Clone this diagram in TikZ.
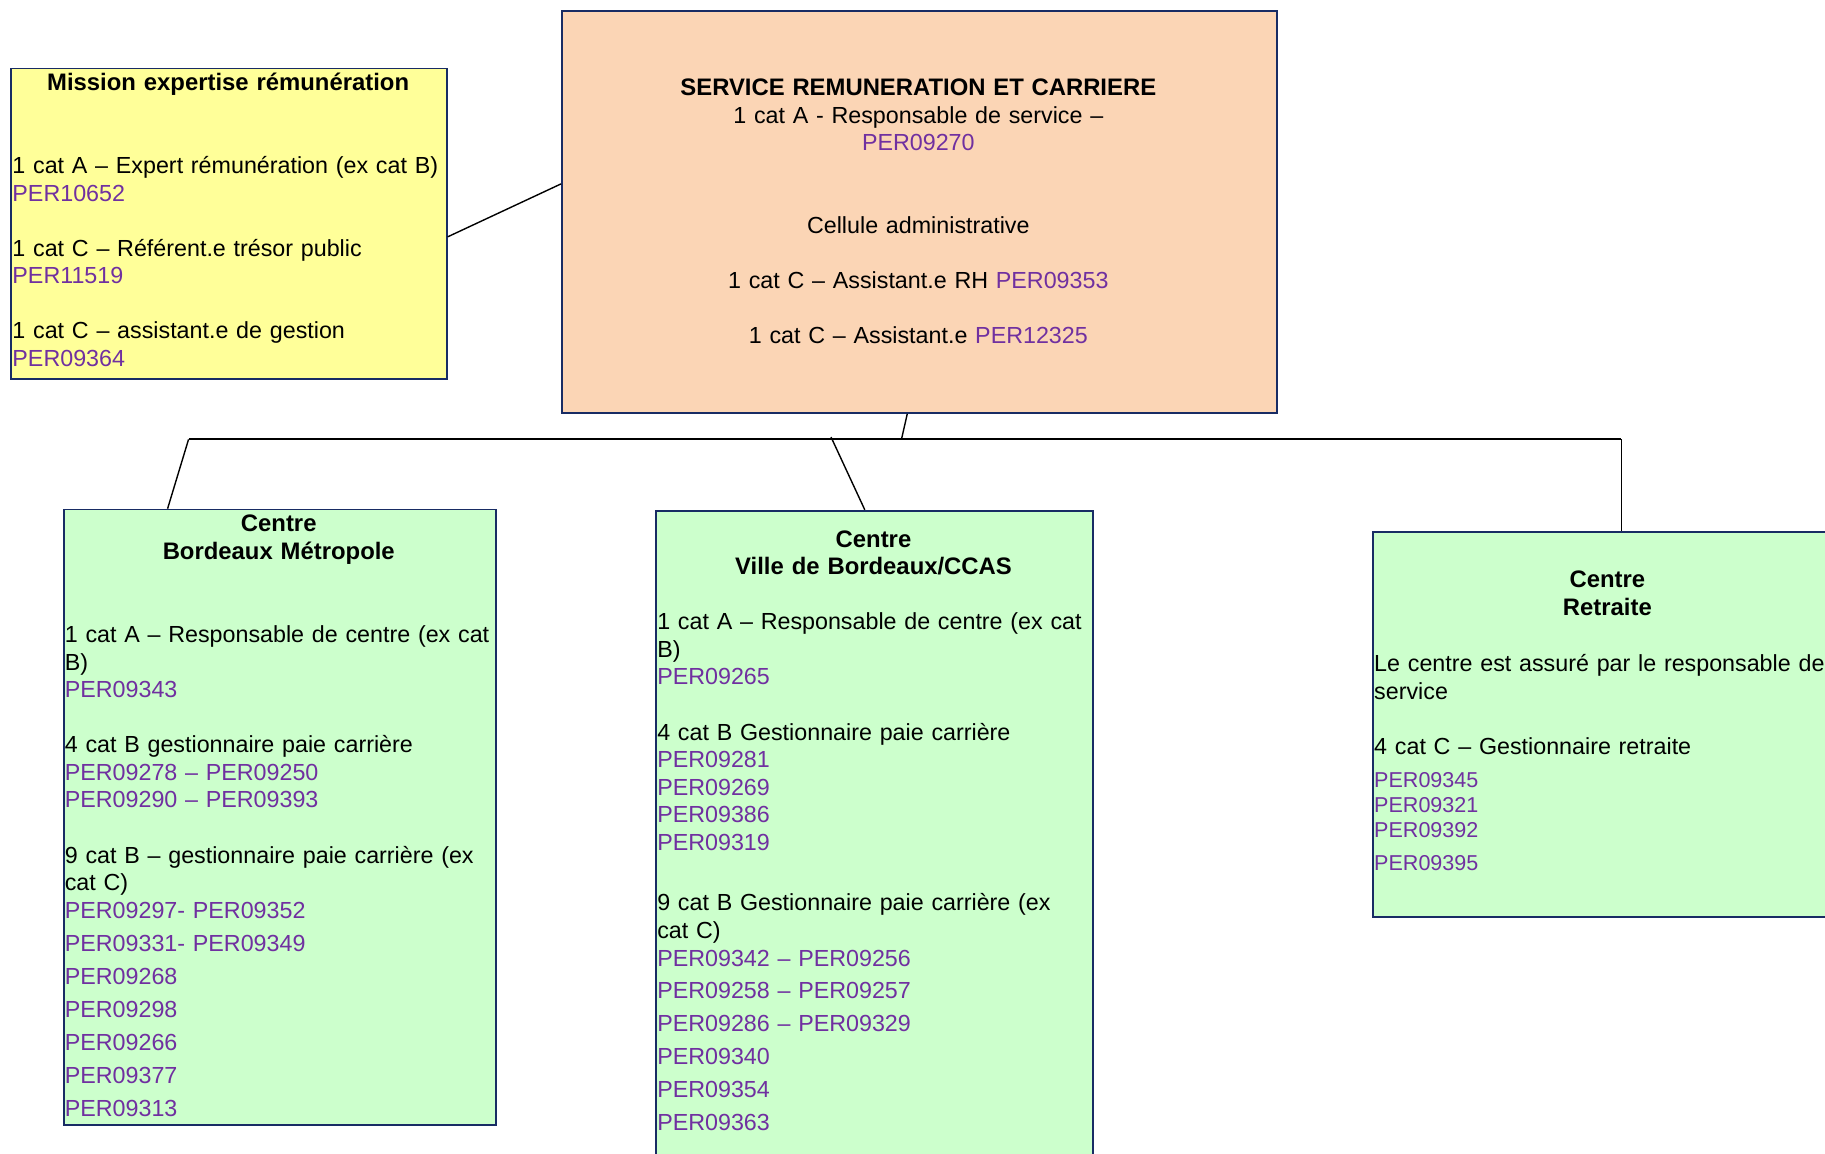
\documentclass[tikz,border=0pt]{standalone}
\usepackage{fontspec}
\setmainfont{Liberation Sans}
\usetikzlibrary{calc}
\definecolor{yelfill}{RGB}{255,255,153}
\definecolor{peachfill}{RGB}{251,213,181}
\definecolor{mintfill}{RGB}{204,255,204}
\definecolor{navyline}{RGB}{24,44,100}
\definecolor{perid}{RGB}{112,48,160}
\newcommand{\pid}[1]{\textcolor{perid}{#1}}
\newcommand{\bigbold}[1]{{\fontsize{20.5}{23.7}\selectfont\bfseries #1}}
\begin{document}
\begin{tikzpicture}[x=1pt,y=-1pt,
  boxnode/.style={draw=navyline, line width=1.6pt, inner sep=0pt, anchor=north west},
  bodytxt/.style={inner sep=0pt, anchor=base west, align=left, text width=420pt,
    font=\fontsize{20.0}{23.7}\selectfont},
  smalltxt/.style={inner sep=0pt, anchor=base west, align=left, text width=200pt,
    font=\fontsize{18.5}{21.3}\selectfont},
  titletxt/.style={inner sep=0pt, anchor=base, align=center, text width=420pt,
    font=\fontsize{20.5}{23.7}\selectfont\bfseries},
  centertxt/.style={inner sep=0pt, anchor=base, align=center, text width=600pt,
    font=\fontsize{20.0}{23.7}\selectfont},
  link/.style={draw=black, line width=1.2pt},
  busline/.style={draw=black, line width=1.6pt}]
\useasboundingbox (0,0) rectangle (1568,991);
\clip (0,0) rectangle (1568,991);

% boxes
\node[boxnode, fill=yelfill, minimum width=374pt, minimum height=267pt] (yel) at (9,58) {};
\node[boxnode, fill=peachfill, minimum width=614pt, minimum height=345pt] (org) at (482,9) {};
\node[boxnode, fill=mintfill, minimum width=371pt, minimum height=529pt] (bm) at (54,437) {};
\node[boxnode, fill=mintfill, minimum width=375pt, minimum height=600pt] (vb) at (563,438) {};
\node[boxnode, fill=mintfill, minimum width=404pt, minimum height=331pt] (ret) at (1179,456) {};

% yellow box text
\node[titletxt] (yeltitle) at (196,78) {Mission expertise rémunération};
\node[bodytxt] (yelbody) at (10.5,149) {1 cat A – Expert rémunération (ex cat B)\\
\pid{PER10652}\\ \mbox{}\\
1 cat C – Référent.e trésor public\\
\pid{PER11519}\\ \mbox{}\\
1 cat C – assistant.e de gestion\\
\pid{PER09364}};

% orange box text
\node[centertxt] (orgtext) at (789,82) {\bigbold{SERVICE REMUNERATION ET CARRIERE}\\
1 cat A - Responsable de service –\\
\pid{PER09270}\\ \mbox{}\\ \mbox{}\\
Cellule administrative\\ \mbox{}\\
1 cat C – Assistant.e RH \pid{PER09353}\\ \mbox{}\\
1 cat C – Assistant.e \pid{PER12325}};

% Bordeaux Metropole
\node[titletxt] (bmtitle) at (239.5,457) {Centre\\Bordeaux Métropole};
\node[bodytxt] (bmbody) at (55.5,552) {1 cat A – Responsable de centre (ex cat\\
B)\\
\pid{PER09343}\\ \mbox{}\\
4 cat B gestionnaire paie carrière\\
\pid{PER09278 – PER09250}\\
\pid{PER09290 – PER09393}\\ \mbox{}\\
9 cat B – gestionnaire paie carrière (ex\\
cat C)\\
\pid{PER09297- PER09352}\\[4.7pt]
\pid{PER09331- PER09349}\\[4.7pt]
\pid{PER09268}\\[4.7pt]
\pid{PER09298}\\[4.7pt]
\pid{PER09266}\\[4.7pt]
\pid{PER09377}\\[4.7pt]
\pid{PER09313}};

% Ville de Bordeaux
\node[titletxt] (vbtitle) at (750.5,470) {Centre\\Ville de Bordeaux/CCAS};
\node[bodytxt] (vbbody) at (564.5,541) {1 cat A – Responsable de centre (ex cat\\
B)\\
\pid{PER09265}\\ \mbox{}\\
4 cat B Gestionnaire paie carrière\\
\pid{PER09281}\\
\pid{PER09269}\\
\pid{PER09386}\\
\pid{PER09319}\\ \mbox{}\\[4.6pt]
9 cat B Gestionnaire paie carrière (ex\\
cat C)\\
\pid{PER09342 – PER09256}\\[4.6pt]
\pid{PER09258 – PER09257}\\[4.6pt]
\pid{PER09286 – PER09329}\\[4.6pt]
\pid{PER09340}\\[4.6pt]
\pid{PER09354}\\[4.6pt]
\pid{PER09363}};

% Retraite
\node[titletxt] (rettitle) at (1381,505) {Centre\\Retraite};
\node[bodytxt] (retbody) at (1180.5,577) {Le centre est assuré par le responsable de\\
service\\ \mbox{}\\
4 cat C – Gestionnaire retraite};
\node[smalltxt] (retper) at (1180.5,677) {\pid{PER09345}\\
\pid{PER09321}\\
\pid{PER09392}\\[6.7pt]
\pid{PER09395}};

% connectors
\coordinate (busL) at (162,377.5);
\coordinate (busR) at (1393,377.5);
\coordinate (busM) at (714,375.5);
\draw[link] ($(yel.north east)+(0,145.5)$) -- ($(org.north west)+(0,149)$);
\draw[link] ($(org.south west)+(297.5,0)$) -- ($(busL)+(612.5,0)$);
\draw[busline] (busL) -- (busR);
\draw[link] (busL) -- ($(bm.north west)+(90,0)$);
\draw[link] (busM) -- ($(vb.north west)+(180,0)$);
\draw[link] (busR) -- (busR |- ret.north);
\end{tikzpicture}
\end{document}
